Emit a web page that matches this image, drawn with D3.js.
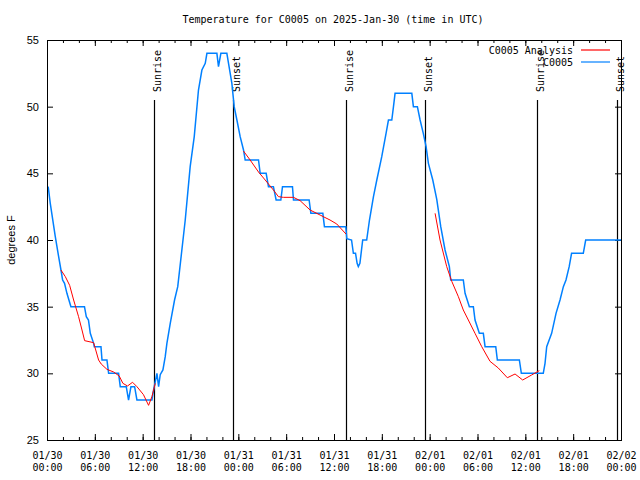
<!DOCTYPE html>
<html>
<head>
<meta charset="utf-8">
<script src="https://cdn.jsdelivr.net/npm/d3@7"></script>
<style>
  body { margin: 0; background: #fff; }
  svg { display: block; }
  .mono { font-family: "DejaVu Sans Mono", monospace; font-size: 10px; }
</style>
</head>
<body>
<div id="chart"></div>
<script>
// station observations, hours since 2025-01-30 00:00 UTC
const obsHours = [0.15, 0.41, 1.04, 1.46, 1.75, 1.96, 2.2, 2.5, 3.0, 4.7, 4.93, 5.2, 5.43, 5.85, 5.93, 6.77, 6.9, 7.52, 7.73, 8.98,
  9.19, 9.94, 10.23, 10.53, 10.99, 11.28, 13.16, 13.37, 13.79, 14.0, 14.2, 14.54, 14.83, 15.04, 15.46, 16.0, 16.4, 17.34, 17.96, 18.47,
  19.0, 19.43, 19.85, 20.06, 21.31, 21.51, 21.81, 22.56, 22.77, 23.19, 23.48, 23.82, 24.23, 24.65, 24.86, 26.53, 26.74, 27.49, 27.78, 28.4,
  28.74, 29.33, 29.54, 30.79, 30.92, 32.88, 33.1, 34.6, 34.8, 37.48, 37.61, 38.2, 38.43, 38.7, 38.9, 39.05, 39.25, 39.6, 40.1, 40.45,
  40.95, 41.37, 41.99, 42.53, 42.83, 43.25, 43.46, 43.66, 45.76, 45.96, 46.46, 46.8, 47.2, 47.55, 47.84, 48.39, 48.89, 49.39, 49.93, 50.47,
  50.64, 52.22, 52.44, 52.98, 53.48, 53.69, 54.23, 54.73, 54.95, 56.29, 56.49, 59.25, 59.5, 62.25, 62.47, 62.68, 63.3, 63.85, 64.35, 64.77,
  65.1, 65.5, 65.8, 67.27, 67.57, 72];
const obsTemp = [44, 42.75, 40.25, 38.75, 37.75, 37, 36.75, 36, 35, 35, 34.25, 34, 33, 32.25, 32, 32, 31, 31, 30, 30,
  29, 29, 28, 29, 29, 28, 28, 28.75, 30, 29, 29.9, 30.25, 31.25, 32.25, 33.75, 35.5, 36.5, 41.5, 45.5, 47.75,
  51.25, 52.75, 53.25, 54, 54, 53, 54, 54, 53.25, 51.75, 50, 49, 47.75, 46.75, 46, 46, 45, 45, 44, 44,
  43, 43, 44, 44, 43, 43, 42, 42, 41, 41, 40.1, 40, 39, 39, 38.25, 38, 38.25, 40, 40, 41.5,
  43.25, 44.5, 46.25, 48, 49, 49, 50, 51, 51, 50, 50, 49, 48, 47, 45.75, 44.5, 43.05, 41, 39.25, 38,
  37, 37, 36, 35, 35, 34, 33, 33, 32, 32, 31, 31, 30, 30, 30.75, 32, 33, 34.5, 35.5, 36.5,
  37, 38, 39, 39, 40, 40];

// analysis, null splits the runs
const anaHours = [1.75, 2.3, 2.84, 3.34, 3.96, 4.39, 4.72, 5.85, 6.47, 6.8, 7.52, 8.36, 9.06, 9.52, 10.1, 10.73, 11.28, 12.1, 12.74, 13.16, 13.58,
  null,
  24.65, 25.48, 26.53, 27.37, 28.4, 29.03, 29.66, 30.92, 31.75, 33.0, 34.26, 35.5, 36.35, 37.5,
  null,
  48.68, 49.3, 50.14, 50.77, 51.6, 52.22, 52.85, 53.69, 54.53, 55.57, 56.61, 57.74, 58.71, 59.67, 60.8, 61.75];
const anaTemp = [37.75, 37.25, 36.6, 35.5, 34.25, 33.25, 32.45, 32.3, 31, 30.7, 30.3, 30.1, 29.8, 29.25, 29.05, 29.33, 29, 28.4, 27.6, 28.25, 29.25,
  null,
  46.67, 46, 45.1, 44.5, 43.75, 43.25, 43.2, 43.2, 42.95, 42.25, 41.87, 41.5, 41.2, 40.45,
  null,
  42, 40, 38, 36.9, 35.75, 34.75, 34, 33, 32, 30.9, 30.4, 29.67, 29.95, 29.5, 29.88, 30.2];

const sunTimes = ["2025-01-30T13:29Z", "2025-01-30T23:23Z", "2025-01-31T13:33Z", "2025-01-31T23:28Z", "2025-02-01T13:30Z", "2025-02-01T23:27Z"];
const sunLabels = ["Sunrise", "Sunset", "Sunrise", "Sunset", "Sunrise", "Sunset"];
const yTicks = [25, 30, 35, 40, 45, 50, 55];
const seriesNames = ["C0005 Analysis", "C0005"];
const seriesColors = ["#ff0000", "#0080ff"];

const start = new Date("2025-01-30T00:00Z");
const end = new Date("2025-02-02T00:00Z");
const toDate = h => new Date(start.getTime() + h * 3600e3);

const W = 640, H = 480;
const pLeft = 47, pRight = 621, pTop = 40, pBottom = 440;

const x = d3.scaleUtc().domain([start, end]).range([pLeft, pRight]);
const y = d3.scaleLinear().domain([25, 55]).range([pBottom, pTop]);

const svg = d3.select("#chart").append("svg")
  .attr("width", W)
  .attr("height", H);

svg.append("text")
  .attr("class", "mono")
  .attr("x", 333)
  .attr("y", 23)
  .attr("text-anchor", "middle")
  .text("Temperature for C0005 on 2025-Jan-30 (time in UTC)");

// minor ticks every 2h, major every 6h, all pointing inward
const minorX = d3.utcHour.every(2).range(start, end);
[[pBottom, d3.axisBottom], [pTop, d3.axisTop]].forEach(([yy, ax]) => {
  svg.append("g")
    .attr("transform", `translate(0,${yy})`)
    .call(ax(x).tickValues(minorX).tickSize(-3).tickSizeOuter(0).tickFormat(""))
    .call(g => g.select(".domain").remove());
  svg.append("g")
    .attr("transform", `translate(0,${yy})`)
    .call(ax(x).ticks(d3.utcHour.every(6)).tickSize(-6).tickSizeOuter(0).tickFormat(""))
    .call(g => g.select(".domain").remove());
});

const xLab = svg.append("g")
  .attr("transform", `translate(0,${pBottom})`)
  .call(d3.axisBottom(x).ticks(d3.utcHour.every(6)).tickSize(0).tickFormat(d3.utcFormat("%m/%d")))
  .call(g => g.select(".domain").remove());
xLab.attr("font-family", null).attr("font-size", null);
xLab.selectAll("text")
  .attr("class", "mono")
  .attr("y", 19)
  .attr("dy", null)
  .each(function(d) {
    d3.select(this).append("tspan")
      .attr("x", 0)
      .attr("dy", 12)
      .text(d3.utcFormat("%H:%M")(d));
  });

svg.append("g")
  .attr("transform", `translate(${pLeft},0)`)
  .call(d3.axisLeft(y).tickValues(yTicks).tickSize(-6).tickPadding(8))
  .call(g => g.select(".domain").remove())
  .attr("font-family", "Liberation Sans, Arial, sans-serif")
  .attr("font-size", 11);

svg.append("g")
  .attr("transform", `translate(${pRight},0)`)
  .call(d3.axisRight(y).tickValues(yTicks).tickSize(-6).tickFormat(""))
  .call(g => g.select(".domain").remove());

svg.append("text")
  .attr("transform", `translate(15,${(pTop + pBottom) / 2}) rotate(-90)`)
  .attr("text-anchor", "middle")
  .attr("font-family", "Liberation Sans, Arial, sans-serif")
  .attr("font-size", 11)
  .text("degrees F");

// sunrise / sunset markers
sunTimes.forEach((t, i) => {
  let sx = Math.round(x(new Date(t))) + 0.5;
  svg.append("line")
    .attr("x1", sx).attr("x2", sx)
    .attr("y1", 100).attr("y2", pBottom)
    .attr("stroke", "black")
    .attr("stroke-width", 1.2);
  svg.append("text")
    .attr("class", "mono")
    .attr("transform", `translate(${sx + 6},92) rotate(-90)`)
    .text(sunLabels[i]);
});

const obs = obsHours.map((h, i) => ({ t: toDate(h), v: obsTemp[i] }));
const ana = anaHours.map((h, i) => ({ t: h == null ? null : toDate(h), v: anaTemp[i] }));

let line = d3.line()
  .defined(d => d.v != null)
  .x(d => x(d.t))
  .y(d => y(d.v));

svg.append("path")
  .datum(obs)
  .attr("d", line)
  .attr("fill", "none")
  .attr("stroke", seriesColors[1])
  .attr("stroke-width", 1.5)
  .attr("stroke-linejoin", "miter");

svg.append("path")
  .datum(ana)
  .attr("d", line)
  .attr("fill", "none")
  .attr("stroke", seriesColors[0])
  .attr("stroke-width", 1);

// frame
svg.append("rect")
  .attr("x", pLeft + 0.5).attr("y", pTop + 0.5)
  .attr("width", pRight - pLeft).attr("height", pBottom - pTop)
  .attr("fill", "none")
  .attr("stroke", "black");

// legend
seriesNames.forEach((name, i) => {
  let ly = 50 + i * 12;
  svg.append("text")
    .attr("class", "mono")
    .attr("x", 573)
    .attr("y", ly + 4)
    .attr("text-anchor", "end")
    .text(name);
  svg.append("line")
    .attr("x1", 581).attr("x2", 610)
    .attr("y1", ly).attr("y2", ly)
    .attr("stroke", seriesColors[i])
    .attr("stroke-width", 1.2);
});
</script>
</body>
</html>
